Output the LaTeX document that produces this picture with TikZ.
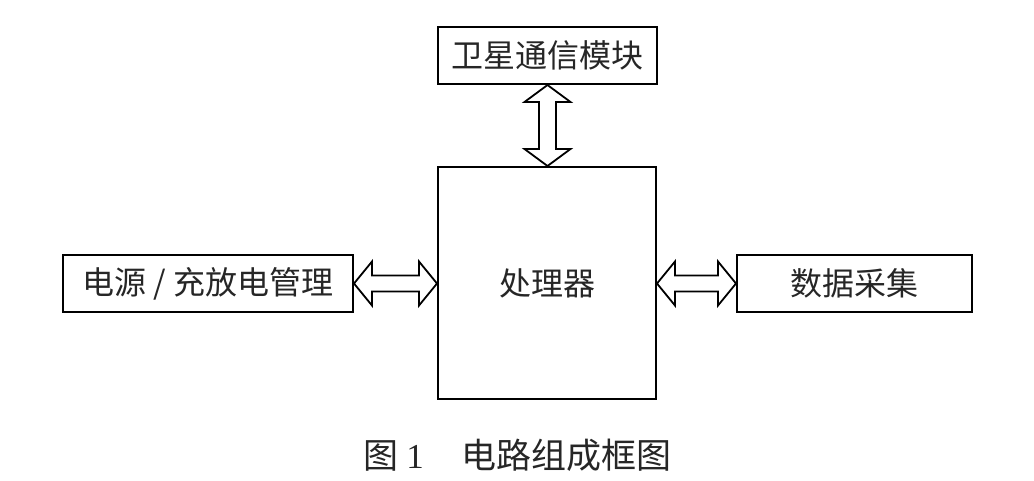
\documentclass[tikz,border=0pt]{standalone}
\usepackage{fontspec}
\newfontfamily\cjk{Noto Sans CJK SC}
\newfontfamily\serifnum{Liberation Serif}
\usetikzlibrary{calc}
\tikzset{
  blk/.style={draw, line width=2pt, inner sep=0pt, font=\cjk\fontsize{32}{32}\selectfont, text=black!85},
  fat/.style={draw, line width=1.8pt, line join=miter, fill=white}
}
\begin{document}
\begin{tikzpicture}[x=1pt,y=-1pt]
\useasboundingbox (0,0) rectangle (1034,480);
\node[blk, minimum width=219pt, minimum height=57pt] (sat) at (547.5,55.5) {卫星通信模块};
\node[blk, minimum width=218pt, minimum height=232pt] (proc) at (547,283) {处理器};
\node[blk, minimum width=290pt, minimum height=57pt] (pw) at (208,283.5) {电源 / 充放电管理};
\node[blk, minimum width=235pt, minimum height=57pt] (daq) at (854.5,283.5) {数据采集};
\node[font=\cjk\fontsize{35}{35}\selectfont, text=black!85] (cap) at (517.5,455) {图\hspace{8pt}{\serifnum 1}\hspace{38pt}电路组成框图};
% left double arrow
\coordinate (la) at (pw.east);
\coordinate (lb) at (proc.west |- pw.east);
\draw[fat] (la) -- ++(18,-22) -- ++(0,14) -- ($(lb)+(-18,-8)$) -- ++(0,-14) -- (lb)
  -- ++(-18,22) -- ++(0,-14) -- ($(la)+(18,8)$) -- ++(0,14) -- cycle;
% right double arrow
\coordinate (ra) at (proc.east |- daq.west);
\coordinate (rb) at (daq.west);
\draw[fat] (ra) -- ++(18,-22) -- ++(0,14) -- ($(rb)+(-18,-8)$) -- ++(0,-14) -- (rb)
  -- ++(-18,22) -- ++(0,-14) -- ($(ra)+(18,8)$) -- ++(0,14) -- cycle;
% vertical double arrow
\coordinate (ta) at (sat.south);
\coordinate (tb) at (proc.north -| sat.south);
\draw[fat] (ta) -- ++(23,17) -- ++(-14.5,0) -- ($(tb)+(8.5,-17)$) -- ++(14.5,0) -- (tb)
  -- ++(-23,-17) -- ++(14.5,0) -- ($(ta)+(-8.5,17)$) -- ++(-14.5,0) -- cycle;
\end{tikzpicture}
\end{document}
